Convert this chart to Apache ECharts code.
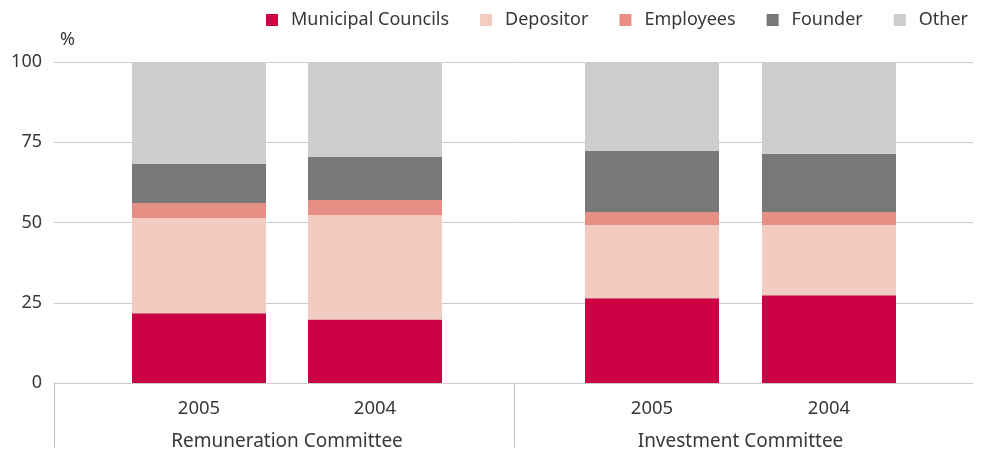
<!DOCTYPE html>
<html>
<head>
<meta charset="utf-8">
<script src="https://cdn.jsdelivr.net/npm/echarts@6/dist/echarts.min.js"></script>
<style>html,body{margin:0;padding:0;background:#fff}#c{width:991px;height:466px}</style>
</head>
<body>
<div id="c"></div>
<script>
var years = ['2005', '2004'];
var committees = ['Remuneration Committee', 'Investment Committee'];
var seriesNames = ['Municipal Councils', 'Depositor', 'Employees', 'Founder', 'Other'];
var colors = ['#CC0042', '#F2CBC1', '#E68F85', '#787878', '#CDCDCD'];
var yTicks = [0, 25, 50, 75, 100];

var municipalRem = [21.7, 19.8];
var depositorRem = [29.7, 32.5];
var employeesRem = [4.7, 4.7];
var founderRem = [12.2, 13.5];
var otherRem = [31.7, 29.5];

var municipalInv = [26.4, 27.3];
var depositorInv = [22.8, 21.9];
var employeesInv = [4.1, 4.1];
var founderInv = [19.0, 18.1];
var otherInv = [27.7, 28.6];

var remData = [municipalRem, depositorRem, employeesRem, founderRem, otherRem];
var invData = [municipalInv, depositorInv, employeesInv, founderInv, otherInv];

var FONT = 'Noto Sans';
var TXT = '#383838';
var GRID_TOP = 62, GRID_BOTTOM = 83;

var series = [];
seriesNames.forEach(function (n, i) {
  series.push({ name: n, type: 'bar', stack: 'rem', xAxisIndex: 1, yAxisIndex: 1,
    barWidth: 134, data: remData[i], itemStyle: { color: colors[i] } });
});
seriesNames.forEach(function (n, i) {
  series.push({ name: n, type: 'bar', stack: 'inv', xAxisIndex: 2, yAxisIndex: 2,
    barWidth: 134, data: invData[i], itemStyle: { color: colors[i] } });
});

function yearAxis(grid, name) {
  return {
    type: 'category', gridIndex: grid, data: years,
    axisLine: { show: false }, axisTick: { show: false },
    axisLabel: { color: TXT, fontFamily: FONT, fontSize: 18.5, margin: 16 },
    name: name, nameLocation: 'middle', nameGap: 49,
    nameTextStyle: { color: TXT, fontFamily: FONT, fontSize: 19 }
  };
}
function hiddenY(grid) {
  return { type: 'value', gridIndex: grid, min: 0, max: 100, show: false };
}
function dividerY(grid) {
  return { type: 'value', gridIndex: grid, min: 0, max: 1,
    axisLine: { show: true, lineStyle: { color: '#BDBDBD', width: 1 } },
    axisTick: { show: false }, axisLabel: { show: false }, splitLine: { show: false } };
}

var option = {
  animation: false,
  backgroundColor: '#ffffff',
  textStyle: { fontFamily: FONT },
  legend: {
    data: seriesNames, right: 18, top: 6, icon: 'rect',
    itemWidth: 12, itemHeight: 12, itemGap: 31,
    textStyle: { color: TXT, fontFamily: FONT, fontSize: 18, padding: [0, 0, 0, 8] }
  },
  grid: [
    { left: 54, right: 18, top: GRID_TOP, bottom: GRID_BOTTOM },
    { left: 111, width: 352, top: GRID_TOP, bottom: GRID_BOTTOM },
    { left: 563.5, width: 354, top: GRID_TOP, bottom: GRID_BOTTOM },
    { left: 54, width: 460, top: 383, height: 64 },
    { left: 514, width: 459, top: 383, height: 64 }
  ],
  xAxis: [
    { type: 'value', gridIndex: 0, show: false },
    yearAxis(1, committees[0]),
    yearAxis(2, committees[1]),
    { type: 'value', gridIndex: 3, show: false },
    { type: 'value', gridIndex: 4, show: false }
  ],
  yAxis: [
    { type: 'value', gridIndex: 0, min: yTicks[0], max: yTicks[yTicks.length - 1], interval: 25,
      axisLine: { show: false }, axisTick: { show: false },
      axisLabel: { color: TXT, fontFamily: FONT, fontSize: 18, margin: 12 },
      splitLine: { lineStyle: { color: '#CCCCCC', width: 1 } },
      name: '%', nameLocation: 'end', nameGap: 13,
      nameTextStyle: { color: TXT, fontFamily: FONT, fontSize: 18, align: 'left', padding: [0, 0, 0, 6] } },
    hiddenY(1), hiddenY(2), dividerY(3), dividerY(4)
  ],
  series: series
};
var chart = echarts.init(document.getElementById('c'), null, { renderer: 'canvas' });
chart.setOption(option);
</script>
</body>
</html>
